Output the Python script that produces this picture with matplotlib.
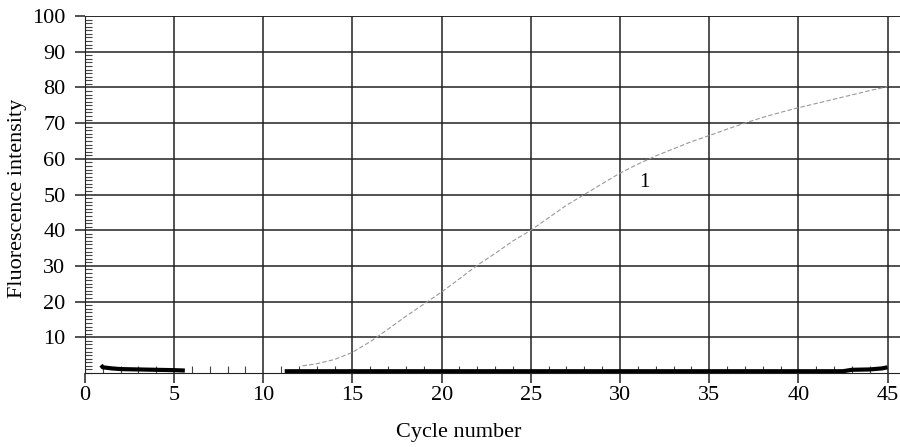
import numpy as np
import matplotlib.pyplot as plt
from matplotlib.ticker import MultipleLocator

plt.rcParams['font.family'] = ['Liberation Serif', 'DejaVu Serif']

# amplification curve 1
cycles = [12.2, 13, 14, 15, 16, 17, 18, 19, 20, 21, 22, 23, 24, 25, 26, 27, 28, 29,
          30, 31, 32, 33, 34, 35, 36, 37, 38, 39, 40, 41, 42, 43, 44, 45]
signal = [2.0, 2.6, 3.8, 5.8, 8.8, 12.3, 15.9, 19.3, 22.7, 26.4, 30.2, 33.5, 37.0, 40.0,
          43.5, 47.0, 50.0, 53.0, 56.0, 58.5, 60.8, 62.8, 64.8, 66.5, 68.3, 70.0, 71.6,
          73.0, 74.3, 75.5, 76.7, 77.9, 79.1, 80.2]

# negative controls (flat near baseline)
neg1_x = [0.9, 1.0, 1.5, 2, 3, 4, 5, 5.6]
neg1_y = [2.2, 1.6, 1.3, 1.1, 1.0, 0.9, 0.8, 0.7]
neg2_x = [11.2, 15, 20, 25, 30, 35, 40, 42.5, 43, 44, 44.7, 45]
neg2_y = [0.5, 0.5, 0.5, 0.5, 0.5, 0.5, 0.5, 0.5, 0.9, 1.0, 1.3, 1.6]

fig = plt.figure(figsize=(9, 4.47), dpi=100)
ax = fig.add_axes([0.0944, 0.1655, 0.9056, 0.7987])

ax.plot(cycles, signal, color='#999999', lw=0.8, ls=(0, (4, 2)))
ax.plot(neg1_x, neg1_y, color='black', lw=3, solid_capstyle='butt')
ax.plot(neg2_x, neg2_y, color='black', lw=3, solid_capstyle='butt')
ax.text(31.1, 53.5, '1', fontsize=15, ha='left', va='center')

ax.set_xlim(0, 45.7)
ax.set_ylim(0, 100)
ax.set_xticks(range(0, 46, 5))
ax.set_yticks(range(10, 101, 10))
ax.xaxis.set_minor_locator(MultipleLocator(1))
ax.yaxis.set_minor_locator(MultipleLocator(1))
ax.tick_params(which='major', direction='out', length=7, width=1.1, labelsize=16,
               color='#222222')
ax.tick_params(axis='x', which='major', pad=2)
ax.tick_params(axis='y', which='major', pad=7)
ax.tick_params(which='minor', direction='in', length=5, width=0.8, color='#444444')
ax.grid(True, which='major', color='#222222', lw=1.1)
ax.axhline(100, color='#222222', lw=1.1)
for s in ['top', 'right']:
    ax.spines[s].set_visible(False)
ax.spines['left'].set_color('#222222')
ax.spines['bottom'].set_color('#222222')

ax.set_xlabel('Cycle number', fontsize=16)
ax.set_ylabel('Fluorescence intensity', fontsize=16)
ax.xaxis.set_label_coords(0.459, -0.14)
ax.yaxis.set_label_coords(-0.071, 0.49)

fig.savefig('out.png', dpi=100)
